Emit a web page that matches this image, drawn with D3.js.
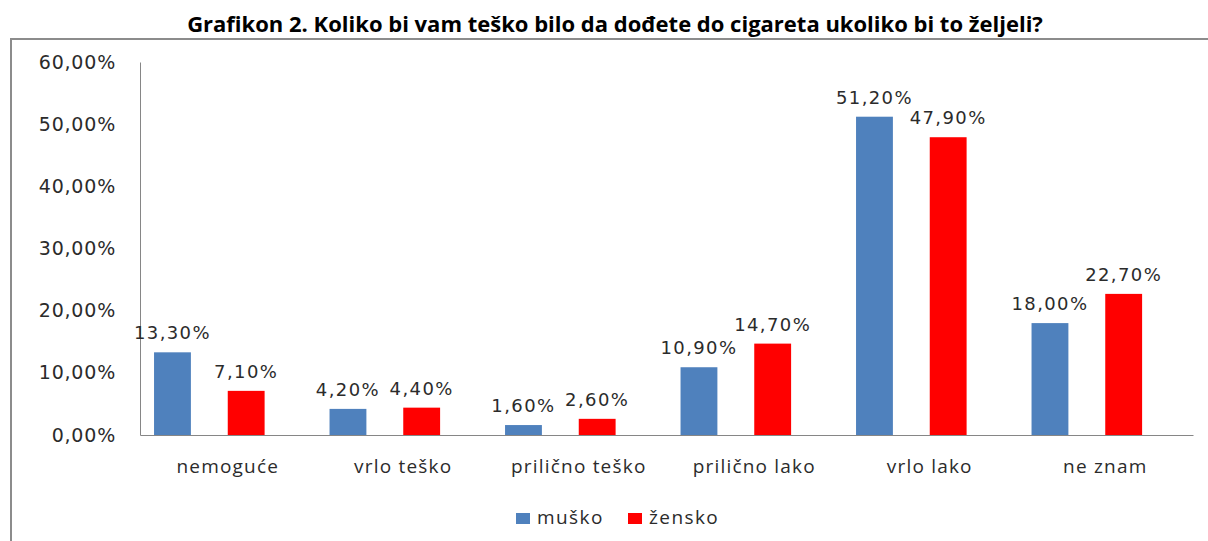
<!DOCTYPE html>
<html>
<head>
<meta charset="utf-8">
<script src="https://cdn.jsdelivr.net/npm/d3@7"></script>
<style>
  body { margin: 0; background: #fff; }
  svg { display: block; }
</style>
</head>
<body>
<div id="chart"></div>
<script>
// podaci sa grafikona
const categories = ["nemoguće", "vrlo teško", "prilično teško", "prilično lako", "vrlo lako", "ne znam"];
const seriesNames = ["muško", "žensko"];
const musko = [13.3, 4.2, 1.6, 10.9, 51.2, 18.0];
const zensko = [7.1, 4.4, 2.6, 14.7, 47.9, 22.7];
const yTicks = [0, 10, 20, 30, 40, 50, 60];
const title = "Grafikon 2. Koliko bi vam teško bilo da dođete do cigareta ukoliko bi to željeli?";

const colors = { "muško": "#4F81BD", "žensko": "#FF0000" };
const values = { "muško": musko, "žensko": zensko };

const width = 1208, height = 541;
const fmt = v => v.toFixed(2).replace(".", ",") + "%";

const svg = d3.select("#chart").append("svg")
    .attr("width", width)
    .attr("height", height);

// naslov
svg.append("text")
    .attr("x", 615)
    .attr("y", 32)
    .attr("text-anchor", "middle")
    .style("font-family", "'Open Sans', sans-serif")
    .style("font-weight", "bold")
    .style("font-size", "22px")
    .style("fill", "#000")
    .text(title);

// okvir
svg.append("rect")
    .attr("x", 11)
    .attr("y", 39)
    .attr("width", 1300)
    .attr("height", 600)
    .attr("fill", "none")
    .attr("stroke", "#8c8c8c")
    .attr("stroke-width", 2);

const x = d3.scaleBand()
    .domain(categories)
    .range([140, 1193]);

const y = d3.scaleLinear()
    .domain([0, 60])
    .range([435, 62]);

const bw = x.bandwidth();
const barW = bw * 0.21;

// y osa
const yAxis = svg.append("g")
    .attr("transform", "translate(140,0)")
    .call(d3.axisLeft(y).tickValues(yTicks).tickSize(0).tickPadding(24).tickFormat(fmt));
yAxis.select(".domain").attr("stroke", "#868686");
yAxis.selectAll("text")
    .style("font-family", "'DejaVu Sans', Verdana, sans-serif")
    .style("font-size", "19px")
    .style("letter-spacing", "0.8px")
    .style("fill", "#2b2b2b");

// x osa
const xAxis = svg.append("g")
    .attr("transform", "translate(0,435)")
    .call(d3.axisBottom(x).tickSize(0).tickSizeOuter(0).tickPadding(25));
xAxis.select(".domain").attr("stroke", "#868686");
xAxis.selectAll("text")
    .style("font-family", "'Open Sans', sans-serif")
    .style("font-size", "19px")
    .style("letter-spacing", "1.2px")
    .style("fill", "#2b2b2b");

// stupci
seriesNames.forEach((s, si) => {
    const offset = si === 0 ? -2 * barW : 0;
    const g = svg.append("g");
    g.selectAll("rect")
        .data(categories)
        .enter().append("rect")
        .attr("x", d => x(d) + bw / 2 + offset)
        .attr("y", (d, i) => y(values[s][i]))
        .attr("width", barW)
        .attr("height", (d, i) => y(0) - y(values[s][i]))
        .attr("fill", colors[s]);

    g.selectAll("text")
        .data(categories)
        .enter().append("text")
        .attr("x", d => x(d) + bw / 2 + offset + barW / 2)
        .attr("y", (d, i) => y(values[s][i]) - 13)
        .attr("text-anchor", "middle")
        .style("font-family", "'DejaVu Sans', Verdana, sans-serif")
        .style("font-size", "18px")
        .style("letter-spacing", "1.4px")
        .style("fill", "#2b2b2b")
        .text((d, i) => fmt(values[s][i]));
});

// legenda
const legendX = [516, 628];
const legend = svg.append("g");
seriesNames.forEach((s, i) => {
    legend.append("rect")
        .attr("x", legendX[i])
        .attr("y", 513)
        .attr("width", 14)
        .attr("height", 11)
        .attr("fill", colors[s]);
    legend.append("text")
        .attr("x", legendX[i] + 21)
        .attr("y", 524)
        .style("font-family", "'Open Sans', sans-serif")
        .style("font-size", "19px")
        .style("letter-spacing", "1.4px")
        .style("fill", "#2b2b2b")
        .text(s);
});
</script>
</body>
</html>
